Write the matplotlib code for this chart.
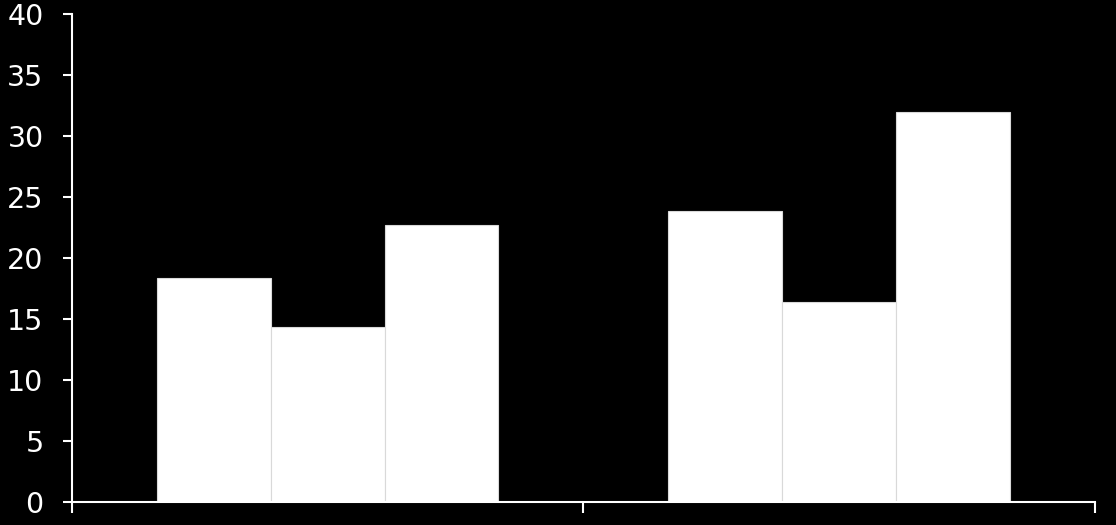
import numpy as np
import matplotlib.pyplot as plt

# two categories, three series each
categories = ['', '']
series_a = [18.3, 23.8]
series_b = [14.3, 16.4]
series_c = [22.7, 31.9]
y_ticks = [0, 5, 10, 15, 20, 25, 30, 35, 40]


def main():
    fig = plt.figure(figsize=(11.16, 5.25), dpi=100, facecolor='black')
    ax = fig.add_axes([0.0645, 0.0444, 0.9165, 0.9298], facecolor='black')

    x = np.arange(len(categories))
    width = 0.2225
    for i, vals in enumerate([series_a, series_b, series_c]):
        ax.bar(x + (i - 1) * width, vals, width, color='white',
               edgecolor='#d9d9d9', linewidth=0.8, zorder=2)

    ax.set_xlim(-0.5, len(categories) - 0.5)
    ax.set_ylim(0, 40)
    ax.set_yticks(y_ticks)
    ax.set_xticks(np.arange(len(categories) + 1) - 0.5)
    ax.set_xticklabels([''] * (len(categories) + 1))

    for side in ['top', 'right']:
        ax.spines[side].set_visible(False)
    for side in ['left', 'bottom']:
        ax.spines[side].set_color('white')
        ax.spines[side].set_linewidth(1.5)
        ax.spines[side].set_zorder(3)

    # sizes in points (1 pt = 1.39 px at dpi 100)
    ax.tick_params(axis='both', colors='white', width=1.5, length=6.5,
                   labelsize=20.5, pad=14, direction='out')
    ax.tick_params(axis='x', length=8)

    fig.savefig('out.png', dpi=100, facecolor='black')


if __name__ == "__main__":
    main()
